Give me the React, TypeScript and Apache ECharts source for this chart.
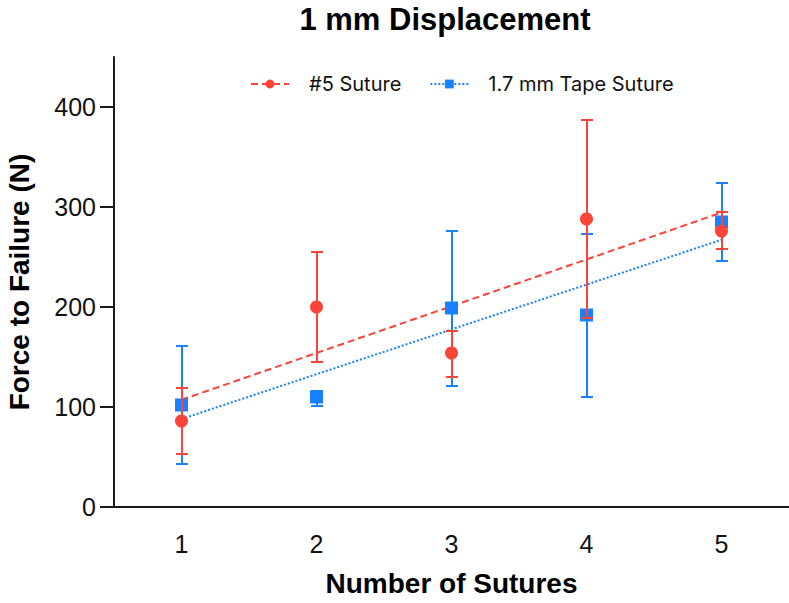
import React, { useEffect, useRef } from "react";
import * as echarts from "echarts";

// Number of sutures on the x axis
const sutureCounts = ["1", "2", "3", "4", "5"];

// #5 Suture: mean force to failure (N) with error bar bounds
const suture5Mean = [86, 200, 154, 288, 276];
const suture5Low = [53, 145, 130, 189, 258];
const suture5High = [119, 255, 176, 387, 295];

// 1.7 mm Tape Suture: mean force to failure (N) with error bar bounds
const tapeMean = [102, 110, 199, 192, 285];
const tapeLow = [43, 101, 121, 110, 246];
const tapeHigh = [161, 116, 276, 273, 324];

const yTicks = [0, 100, 200, 300, 400];

const RED = "#fe4338";
const BLUE = "#1782ff";
const SANS = '"Liberation Sans", Arial, sans-serif';

// least-squares line through the means, evaluated at each suture count
function linearFit(ys: number[]): number[] {
  const xs = ys.map((_, i) => i + 1);
  const n = ys.length;
  const mx = xs.reduce((a, b) => a + b, 0) / n;
  const my = ys.reduce((a, b) => a + b, 0) / n;
  let sxy = 0;
  let sxx = 0;
  for (let i = 0; i < n; i++) {
    sxy += (xs[i] - mx) * (ys[i] - my);
    sxx += (xs[i] - mx) * (xs[i] - mx);
  }
  const slope = sxy / sxx;
  return xs.map((x) => my + slope * (x - mx));
}

function errorBarSeries(low: number[], high: number[], color: string, z: number) {
  return {
    type: "custom",
    z,
    silent: true,
    data: low.map((l, i) => [i, l, high[i]]),
    encode: { x: 0, y: [1, 2] },
    renderItem: (_params: any, api: any) => {
      const i = api.value(0);
      const top = api.coord([i, api.value(2)]);
      const bot = api.coord([i, api.value(1)]);
      // snap the stem to whole pixels so a 2px stroke stays crisp
      const x = Math.round(top[0]);
      const half = 6;
      const style = { stroke: color, lineWidth: 2 };
      return {
        type: "group",
        children: [
          { type: "line", shape: { x1: x, y1: top[1], x2: x, y2: bot[1] }, style },
          { type: "line", shape: { x1: x - half, y1: top[1], x2: x + half, y2: top[1] }, style },
          { type: "line", shape: { x1: x - half, y1: bot[1], x2: x + half, y2: bot[1] }, style },
        ],
      };
    },
  };
}

export default function App() {
  const ref = useRef<HTMLDivElement>(null);

  useEffect(() => {
    if (!ref.current) return;
    const chart = echarts.init(ref.current, undefined, { renderer: "svg" });
    const axisColor = "#1a1a1a";

    chart.setOption({
      animation: false,
      backgroundColor: "#ffffff",
      title: {
        text: "1 mm Displacement",
        left: 445,
        textAlign: "center",
        top: 2,
        padding: 0,
        textStyle: { fontFamily: SANS, fontWeight: "bold", fontSize: 31, lineHeight: 34, color: "#000" },
      },
      legend: {
        data: ["#5 Suture", "1.7 mm Tape Suture"],
        top: 69,
        left: 245,
        itemWidth: 38,
        itemHeight: 11,
        itemGap: 28,
        textStyle: { fontFamily: "Inter, sans-serif", fontSize: 20, color: "#111", padding: [0, 0, 0, 15] },
      },
      grid: { left: 114, right: 0, top: 57, bottom: 96, containLabel: false, outerBoundsMode: "none" },
      xAxis: {
        type: "category",
        data: sutureCounts,
        boundaryGap: true,
        name: "Number of Sutures",
        nameLocation: "middle",
        nameGap: 62,
        nameTextStyle: { fontFamily: SANS, fontWeight: "bold", fontSize: 28, color: "#000" },
        axisLine: { lineStyle: { color: axisColor, width: 2 } },
        axisTick: { alignWithLabel: true, length: 14, lineStyle: { color: axisColor, width: 2 } },
        axisLabel: { fontFamily: SANS, fontSize: 25, color: "#111", margin: 24 },
        splitLine: { show: false },
      },
      yAxis: {
        type: "value",
        min: 0,
        max: 450,
        name: "Force to Failure (N)",
        nameLocation: "middle",
        nameRotate: 90,
        nameGap: 81,
        nameTextStyle: { fontFamily: SANS, fontWeight: "bold", fontSize: 28, color: "#000" },
        axisLine: { show: true, lineStyle: { color: axisColor, width: 2 } },
        axisTick: { show: true, length: 14, lineStyle: { color: axisColor, width: 2 }, customValues: yTicks },
        axisLabel: { fontFamily: SANS, fontSize: 25, color: "#111", margin: 18, customValues: yTicks },
        splitLine: { show: false },
      },
      series: [
        {
          name: "#5 Suture",
          type: "line",
          data: linearFit(suture5Mean),
          symbol: "circle",
          symbolSize: 12,
          showSymbol: false,
          itemStyle: { color: RED },
          lineStyle: { color: RED, width: 2, type: [7, 4] },
          z: 1,
          silent: true,
        },
        {
          name: "1.7 mm Tape Suture",
          type: "line",
          data: linearFit(tapeMean),
          symbol: "rect",
          symbolSize: 12,
          showSymbol: false,
          itemStyle: { color: BLUE },
          lineStyle: { color: BLUE, width: 2, type: [2, 2] },
          z: 1,
          silent: true,
        },
        errorBarSeries(tapeLow, tapeHigh, BLUE, 2),
        {
          type: "scatter",
          data: tapeMean,
          symbol: "rect",
          symbolSize: 13,
          itemStyle: { color: BLUE, opacity: 1 },
          z: 3,
        },
        errorBarSeries(suture5Low, suture5High, RED, 4),
        {
          type: "scatter",
          data: suture5Mean,
          symbol: "circle",
          symbolSize: 13,
          itemStyle: { color: RED, opacity: 1 },
          z: 5,
        },
      ],
    });

    return () => chart.dispose();
  }, []);

  return <div ref={ref} style={{ width: 789, height: 603, position: "absolute", left: 0, top: 0 }} />;
}
